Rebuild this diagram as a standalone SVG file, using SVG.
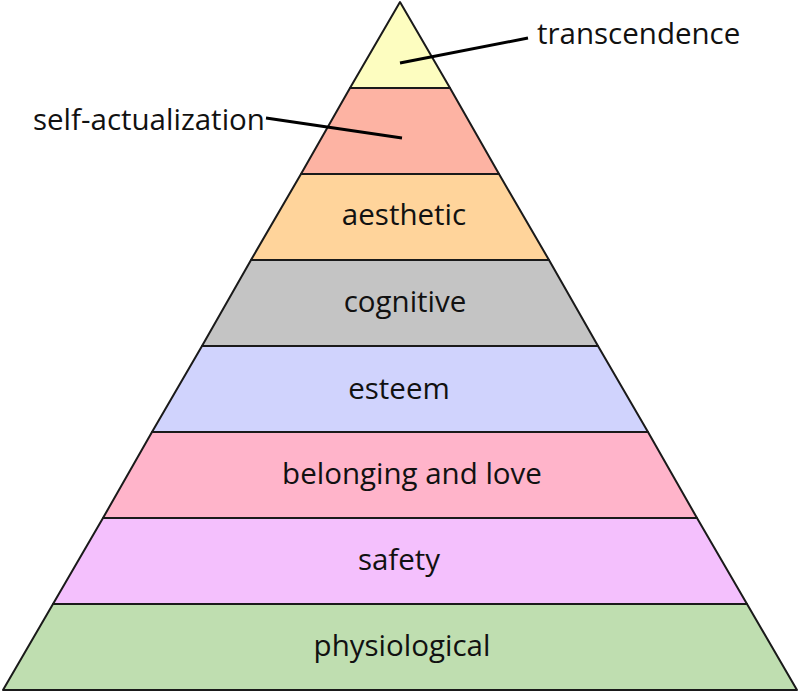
<svg xmlns="http://www.w3.org/2000/svg" width="800" height="693" viewBox="0 0 800 693">
<style>
.layer{stroke:#1a1a1a;stroke-width:2;stroke-linejoin:round}
.lbl{font-family:"Open Sans","DejaVu Sans",sans-serif;font-size:29.5px;fill:#111;text-anchor:middle}
.out{font-family:"Open Sans","DejaVu Sans",sans-serif;font-size:29.5px;fill:#111}
.lead{stroke:#000;stroke-width:3;fill:none}
</style>
<rect width="800" height="693" fill="#fff"/>
<g id="physiological"><polygon class="layer" fill="#bfdeb0" points="53,604 747,604 797,690 3,690"/><text class="lbl" x="402" y="656">physiological</text></g>
<g id="safety"><polygon class="layer" fill="#f4c0fd" points="103,518 697,518 747,604 53,604"/><text class="lbl" x="399" y="570">safety</text></g>
<g id="belonging"><polygon class="layer" fill="#ffb4ca" points="152,432 648,432 697,518 103,518"/><text class="lbl" x="412" y="484">belonging and love</text></g>
<g id="esteem"><polygon class="layer" fill="#d0d3fd" points="202,346 598,346 648,432 152,432"/><text class="lbl" x="399" y="399">esteem</text></g>
<g id="cognitive"><polygon class="layer" fill="#c4c4c4" points="251,260 549,260 598,346 202,346"/><text class="lbl" x="405" y="312">cognitive</text></g>
<g id="aesthetic"><polygon class="layer" fill="#ffd49b" points="301,174 499,174 549,260 251,260"/><text class="lbl" x="404" y="225">aesthetic</text></g>
<g id="self-actualization"><polygon class="layer" fill="#fdb3a3" points="350,88 450,88 499,174 301,174"/><text class="out" x="33" y="130">self-actualization</text></g>
<g id="transcendence"><polygon class="layer" fill="#fdfdc0" points="400,2 450,88 350,88"/><text class="out" x="537" y="44">transcendence</text></g>
<g id="connectors">
<line class="lead" x1="400" y1="63" x2="528" y2="38"/>
<line class="lead" x1="266" y1="118" x2="402" y2="138"/>
</g>
</svg>
